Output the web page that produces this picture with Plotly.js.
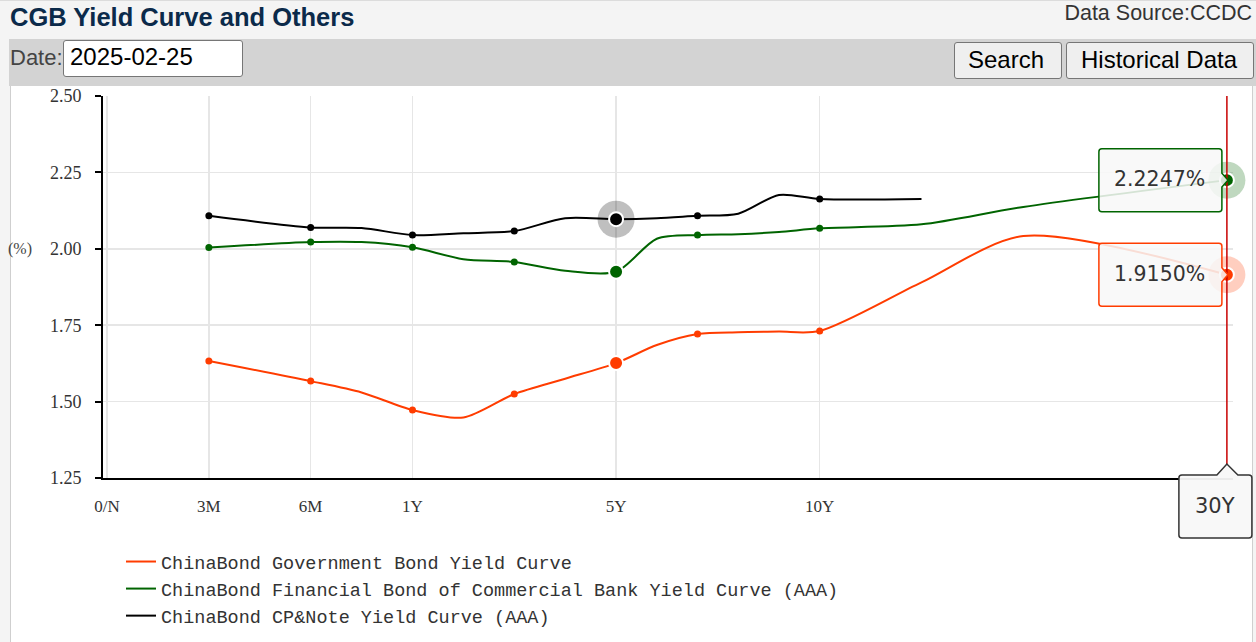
<!DOCTYPE html>
<html>
<head>
<meta charset="utf-8">
<script src="https://cdn.plot.ly/plotly-3.0.1.min.js"></script>
<style>
  html, body { margin:0; padding:0; }
  body { width:1256px; height:642px; overflow:hidden; background:#f4f4f4; position:relative; font-family:"Liberation Sans", Arial, sans-serif; }
  .abs { position:absolute; white-space:nowrap; }
  #topline { left:0; top:0; width:1256px; height:1px; background:#dcdcdc; }
  #title { left:10px; top:5px; font-size:25.5px; line-height:25.5px; font-weight:bold; color:#0b2a4a; }
  #source { right:4px; top:2.5px; font-size:21.5px; line-height:21.5px; color:#333; }
  #bar { left:9px; top:39px; width:1247px; height:47px; background:#d3d3d3; }
  #datelbl { left:10px; top:46.5px; font-size:22px; line-height:22px; color:#444; }
  #datebox { left:63px; top:40px; width:180px; height:37px; box-sizing:border-box; background:#fff; border:1px solid #767676; border-radius:3px; }
  #datetxt { left:70px; top:44.7px; font-size:24px; line-height:24px; color:#000; }
  .btn { top:42px; height:37px; box-sizing:border-box; background:#efefef; border:1px solid #767676; border-radius:3px; }
  .btntxt { top:47.7px; font-size:24px; line-height:24px; color:#000; }
  #chartbg { left:10px; top:86px; width:1243px; height:556px; box-sizing:border-box; background:#fff; border-left:1px solid #cfcfcf; border-right:1px solid #cfcfcf; }
  #plot { left:0; top:0; width:1256px; height:642px; z-index:5; }
</style>
</head>
<body>
<div id="topline" class="abs"></div>
<div id="title" class="abs">CGB Yield Curve and Others</div>
<div id="source" class="abs">Data Source:CCDC</div>
<div id="bar" class="abs"></div>
<div id="datelbl" class="abs">Date:</div>
<div id="datebox" class="abs"></div>
<div id="datetxt" class="abs">2025-02-25</div>
<div class="abs btn" style="left:954px;width:108px;"></div>
<div class="abs btntxt" style="left:968px;">Search</div>
<div class="abs btn" style="left:1066px;width:188px;"></div>
<div class="abs btntxt" style="left:1081px;">Historical Data</div>
<div id="chartbg" class="abs"></div>
<div id="plot" class="abs"></div>
<script>
// ---- data ----
const terms      = ['3M','6M','9M','1Y','2Y','3Y','4Y','5Y','6Y','7Y','8Y','9Y','10Y','15Y','20Y','30Y'];
const termYears  = [0.25,0.5,0.75,1,2,3,4,5,6,7,8,9,10,15,20,30];
const govYield   = [1.633,1.567,1.530,1.4725,1.448,1.525,1.575,1.626,1.685,1.721,1.727,1.729,1.731,1.890,2.042,1.915];
const finYield   = [2.004,2.022,2.022,2.005,1.966,1.957,1.928,1.925,2.033,2.045,2.048,2.055,2.067,2.080,2.137,2.2247];
const cpYield    = [2.108,2.070,2.068,2.045,2.051,2.058,2.100,2.097,2.100,2.108,2.115,2.176,2.163,2.163,null,null];
const seriesNames = ['ChinaBond Government Bond Yield Curve',
                     'ChinaBond Financial Bond of Commercial Bank Yield Curve (AAA)',
                     'ChinaBond CP&Note Yield Curve (AAA)'];
const markedTerms = ['3M','6M','1Y','3Y','7Y','10Y'];
const focusTerm   = '5Y';
const pointerTerm = '30Y';
const xTickLabels = ['0/N','3M','6M','1Y','5Y','10Y'];
const xTickYears  = [0,0.25,0.5,1,5,10];
const yTicks      = [1.25,1.50,1.75,2.00,2.25,2.50];

// ---- axis scale (piecewise term axis) ----
const scaleYears = [0,0.25,0.5,1,5,10,30];
const scalePos   = [0,1,2,3,5,7,11];
function termPos(yr){
  for (let i=1;i<scaleYears.length;i++){
    if (yr<=scaleYears[i]){
      const a=scaleYears[i-1], b=scaleYears[i];
      return scalePos[i-1] + (yr-a)/(b-a)*(scalePos[i]-scalePos[i-1]);
    }
  }
  return scalePos[scalePos.length-1];
}
const xRange=[-0.04,11.06], yRange=[1.25,2.5];
const xs = termYears.map(termPos);
const colors = ['#ff3c00','#006400','#000000'];
const halo   = ['rgba(255,60,0,0.25)','rgba(0,100,0,0.25)','rgba(0,0,0,0.25)'];
const allY = [govYield, finYield, cpYield];
const serif = '"Liberation Serif", "DejaVu Serif", serif';
const sans = '"DejaVu Sans", sans-serif';

const traces=[];
allY.forEach((ys,k)=>{
  traces.push({x:xs, y:ys, type:'scatter', mode:'lines', name:seriesNames[k],
    line:{color:colors[k], width:2, shape:'spline', smoothing:0.8}, connectgaps:false, hoverinfo:'skip'});
});
allY.forEach((ys,k)=>{
  const mx=[], my=[];
  markedTerms.forEach(t=>{const i=terms.indexOf(t); if(ys[i]!=null){mx.push(xs[i]); my.push(ys[i]);}});
  traces.push({x:mx, y:my, type:'scatter', mode:'markers', showlegend:false, hoverinfo:'skip',
    marker:{color:colors[k], size:7}});
});
// focus (5Y) emphasis
const fi = terms.indexOf(focusTerm);
traces.push({x:[xs[fi]], y:[cpYield[fi]], type:'scatter', mode:'markers', showlegend:false, hoverinfo:'skip',
  marker:{color:halo[2], size:37}});
allY.forEach((ys,k)=>{
  traces.push({x:[xs[fi]], y:[ys[fi]], type:'scatter', mode:'markers', showlegend:false, hoverinfo:'skip',
    marker:{color:colors[k], size:14, line:{color:'#fff', width:2}}});
});
// pointer (30Y) halos
const pi = terms.indexOf(pointerTerm);
[0,1].forEach(k=>{
  traces.push({x:[xs[pi]], y:[allY[k][pi]], type:'scatter', mode:'markers', showlegend:false, hoverinfo:'skip', cliponaxis:false,
    marker:{color:halo[k], size:37}});
  traces.push({x:[xs[pi]], y:[allY[k][pi]], type:'scatter', mode:'markers', showlegend:false, hoverinfo:'skip', cliponaxis:false,
    marker:{color:colors[k], size:14, line:{color:'#fff', width:2}}});
});

const px = v => (v-xRange[0])/(xRange[1]-xRange[0]);
const py = v => (v-yRange[0])/(yRange[1]-yRange[0]);
const pxPointer = px(xs[pi]);

function boxPath(){ // value box, relative pixels, apex at anchor
  return 'M -125,31.5 L -8,31.5 Q -5,31.5 -5,28.5 L -5,7 L 1,0 L -5,-7 L -5,-28.5 Q -5,-31.5 -8,-31.5 '+
         'L -125,-31.5 Q -128,-31.5 -128,-28.5 L -128,28.5 Q -128,31.5 -125,31.5 Z';
}
const shapes = [
  {type:'line', xref:'paper', yref:'paper', x0:pxPointer, x1:pxPointer, ysizemode:'pixel', yanchor:0, y0:14, y1:382,
   line:{color:'#c80000', width:1.5}, layer:'above'},
];
const annotations = [
  {xref:'paper', yref:'y', x:0, y:2.0, xanchor:'right', xshift:-69, yanchor:'middle', text:'(%)', showarrow:false,
   font:{family:serif, size:16, color:'#444'}}
];
[1,0].forEach(k=>{
  const v = allY[k][pi];
  shapes.push({type:'path', xref:'paper', yref:'paper', xsizemode:'pixel', ysizemode:'pixel',
    xanchor:pxPointer, yanchor:py(v), path:boxPath(), fillcolor:'rgba(248,248,248,0.86)',
    line:{color:colors[k], width:1.5}, layer:'above'});
  annotations.push({xref:'paper', yref:'paper', x:pxPointer, y:py(v), xanchor:'center', yanchor:'middle',
    xshift:-67, yshift:1, text:v.toFixed(4)+'%', showarrow:false, font:{family:sans, size:20.5, color:'#333'}});
});
shapes.push({type:'path', xref:'paper', yref:'paper', xsizemode:'pixel', ysizemode:'pixel', xanchor:pxPointer, yanchor:0,
  path:'M -45,3 L -10,3 L 0,14 L 11,3 L 22,3 Q 25,3 25,0 L 25,-57 Q 25,-60 22,-60 L -45,-60 Q -48,-60 -48,-57 L -48,0 Q -48,3 -45,3 Z',
  fillcolor:'rgba(248,248,248,0.95)', line:{color:'#333', width:1.5}, layer:'above'});
annotations.push({xref:'paper', yref:'paper', x:pxPointer, y:0, xanchor:'center', yanchor:'middle', xshift:-12, yshift:-28,
  text:pointerTerm, showarrow:false, font:{family:sans, size:21, color:'#333'}});

const layout = {
  width:1256, height:642,
  margin:{l:103, r:23, t:96, b:164, pad:0, autoexpand:false},
  paper_bgcolor:'rgba(0,0,0,0)', plot_bgcolor:'rgba(0,0,0,0)',
  showlegend:true, hovermode:false,
  xaxis:{range:xRange, tickvals:xTickYears.map(termPos), ticktext:xTickLabels, showline:true, linecolor:'#000', linewidth:2,
    showgrid:true, gridcolor:'#e6e6e6', gridwidth:1.5, zeroline:false, ticks:'', ticklabelstandoff:12,
    tickfont:{family:serif, size:17, color:'#333'}, fixedrange:true},
  yaxis:{range:yRange, tickvals:yTicks, tickformat:'.2f', showline:true, linecolor:'#000', linewidth:2,
    ticks:'outside', ticklen:6, tickwidth:2, tickcolor:'#000', ticklabelstandoff:10,
    showgrid:true, gridcolor:'#e6e6e6', gridwidth:1.5, zeroline:false,
    tickfont:{family:serif, size:18, color:'#333'}, fixedrange:true},
  legend:{xref:'container', yref:'container', x:121/1256, y:(642-543)/642, xanchor:'left', yanchor:'top', orientation:'v', bgcolor:'rgba(0,0,0,0)',
    font:{family:'"Liberation Mono", monospace', size:18.5, color:'#333'}, tracegroupgap:0, traceorder:'normal'},
  shapes:shapes, annotations:annotations
};
Plotly.newPlot('plot', traces, layout, {displayModeBar:false, staticPlot:true});
</script>
</body>
</html>
